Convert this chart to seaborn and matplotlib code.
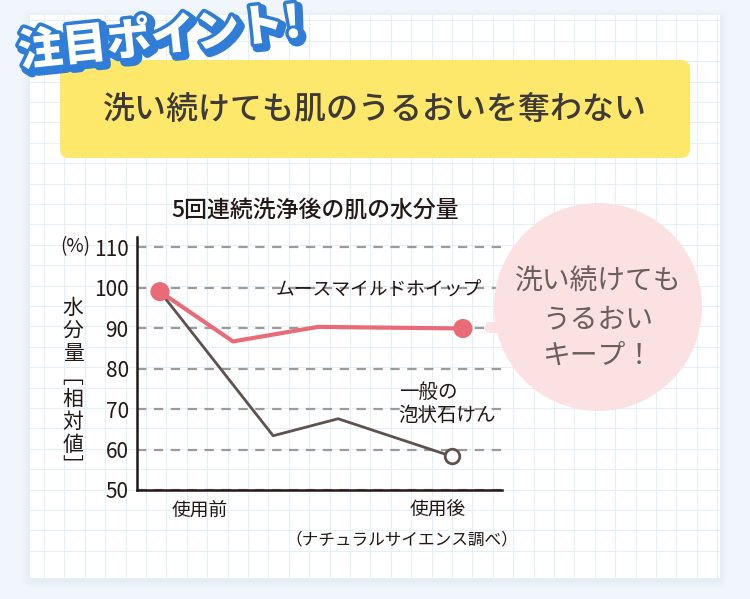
import numpy as np
import pandas as pd
import matplotlib
matplotlib.use("Agg")
import matplotlib.pyplot as plt
import matplotlib.patheffects as pe
from matplotlib.patches import FancyBboxPatch, Circle, Rectangle
import seaborn as sns

# ---------------- data ----------------
steps_mousse = [6.3, 26.3, 49.6, 89.3]      # horizontal position along test sequence
vals_mousse = [99.0, 86.7, 90.3, 89.9]
steps_soap = [6.3, 37.3, 55.1, 86.3]
vals_soap = [99.0, 63.4, 67.6, 58.3]
xtick_pos = [17.3, 82.5]
xtick_labels = ["使用前", "使用後"]
yticks = [50, 60, 70, 80, 90, 100, 110]
series_mousse = "ムースマイルドホイップ"
series_soap = "一般の\n泡状石けん"

sns.set_theme(style="white")
plt.rcParams["font.family"] = ["Noto Sans CJK JP", "DejaVu Sans"]

W, H = 750, 599
fig = plt.figure(figsize=(W / 100, H / 100), dpi=100)
fig.patch.set_facecolor("#f1f6fc")

# ---------------- background layer ----------------
bg = fig.add_axes([0, 0, 1, 1], zorder=0)
bg.set_xlim(0, W)
bg.set_ylim(H, 0)
bg.axis("off")
for i, a in enumerate([0.02, 0.025, 0.03, 0.035]):
    d = 8 - 2 * i
    bg.add_patch(FancyBboxPatch((30 - d, 15 - d + 3), 690 + 2 * d, 563 + 2 * d,
                                boxstyle="round,pad=0,rounding_size=%d" % (d + 2),
                                fc="#9fb4cc", ec="none", alpha=a))
bg.add_patch(Rectangle((30, 15), 690, 563, fc="white", ec="none"))
gx = np.arange(44, 720, 20.4)
gy = np.arange(550.7, 15, -20.4)
for x in gx:
    bg.plot([x, x], [15, 578], color="#e6eff8", lw=0.8, zorder=1)
for y in gy:
    bg.plot([30, 720], [y, y], color="#e6eff8", lw=0.8, zorder=1)

# banner
bg.add_patch(FancyBboxPatch((60, 60), 630, 98, boxstyle="round,pad=0,rounding_size=9",
                            fc="#fee86c", ec="none", zorder=2))
bg.text(375, 110, "洗い続けても肌のうるおいを奪わない", ha="center", va="center",
        fontsize=23, color="#3d3a39", fontweight="medium", zorder=3)

# chart title
bg.text(315, 211, "5回連続洗浄後の肌の水分量", ha="center", va="center",
        fontsize=16.5, color="#231815", fontweight="medium", zorder=3)
# axis unit and label
bg.text(75, 247, "(%)", ha="center", va="center", fontsize=13.5, color="#231815", zorder=3)
bg.text(73, 388, "水\n分\n量\n﹇\n相\n対\n値\n﹈", ha="center", va="center",
        fontsize=15, color="#231815", linespacing=1.05, zorder=3)
# source
bg.text(402, 540, "（ナチュラルサイエンス調べ）", ha="center", va="center",
        fontsize=12, color="#231815", zorder=3)

# ---------------- chart ----------------
ax_l, ax_r, ax_t, ax_b = 137, 502, 237, 490
ax = fig.add_axes([ax_l / W, (H - ax_b) / H, (ax_r - ax_l) / W, (ax_b - ax_t) / H], zorder=2)
ax.set_facecolor("none")
ax.set_xlim(0, 100)
ax.set_ylim(50, 112.5)

df_m = pd.DataFrame({"x": steps_mousse, "y": vals_mousse})
df_s = pd.DataFrame({"x": steps_soap, "y": vals_soap})

sns.lineplot(data=df_s, x="x", y="y", ax=ax, color="#5f514d", linewidth=2.0,
             sort=False, zorder=3)
sns.lineplot(data=df_m, x="x", y="y", ax=ax, color="#ea6b78", linewidth=3.0,
             sort=False, zorder=4)
sns.scatterplot(data=df_m.iloc[[0, -1]], x="x", y="y", ax=ax, s=190, color="#ea6b78",
                edgecolor="none", zorder=5)
sns.scatterplot(data=df_s.iloc[[-1]], x="x", y="y", ax=ax, s=110, color="white",
                edgecolor="#5f514d", linewidth=2.0, zorder=5)

ax.set_yticks(yticks)
ax.set_yticklabels([str(v) for v in yticks], fontsize=15, color="#231815")
ax.set_xticks(xtick_pos)
ax.set_xticklabels(xtick_labels, fontsize=13.5, color="#231815")
ax.tick_params(axis="both", length=0)
ax.tick_params(axis="y", pad=6)
ax.tick_params(axis="x", pad=7)
ax.set_xlabel("")
ax.set_ylabel("")
ax.yaxis.grid(True, color="#9b9b9b", linestyle=(0, (4.2, 3.4)), linewidth=1.6)
ax.xaxis.grid(False)
for s in ["top", "right"]:
    ax.spines[s].set_visible(False)
for s in ["left", "bottom"]:
    ax.spines[s].set_color("#231815")
    ax.spines[s].set_linewidth(1.8)
    ax.spines[s].set_zorder(6)

ax.text(94.5, 99.4, series_mousse, ha="right", va="center",
        fontsize=13.5, color="#231815")
ax.text(71.7, 71.3, series_soap, ha="left", va="center", fontsize=14,
        color="#231815", linespacing=1.1)

# ---------------- overlay (bubble + heading) ----------------
ov = fig.add_axes([0, 0, 1, 1], zorder=4)
ov.set_facecolor("none")
ov.set_xlim(0, W)
ov.set_ylim(H, 0)
ov.axis("off")
bubble = "#fbe1e1"
ov.add_patch(FancyBboxPatch((485, 322), 24, 11, boxstyle="round,pad=0,rounding_size=5.5",
                            fc=bubble, ec="none"))
ov.add_patch(Circle((598, 307), 104, fc=bubble, ec="none"))
ov.text(598, 319, "洗い続けても\nうるおい\nキープ！", ha="center", va="center",
        fontsize=20, color="#6a5f5c", linespacing=1.3)

blue = "#2f7dd6"
ov.text(160, 38, "注目ポイント!", ha="center", va="center", fontsize=32,
        fontweight="heavy", color="white", rotation=6,
        path_effects=[pe.withStroke(linewidth=7, foreground=blue, offset=(2.5, -2.5)),
                      pe.withStroke(linewidth=5, foreground=blue)])

fig.savefig("out.png", dpi=100, facecolor=fig.get_facecolor())
